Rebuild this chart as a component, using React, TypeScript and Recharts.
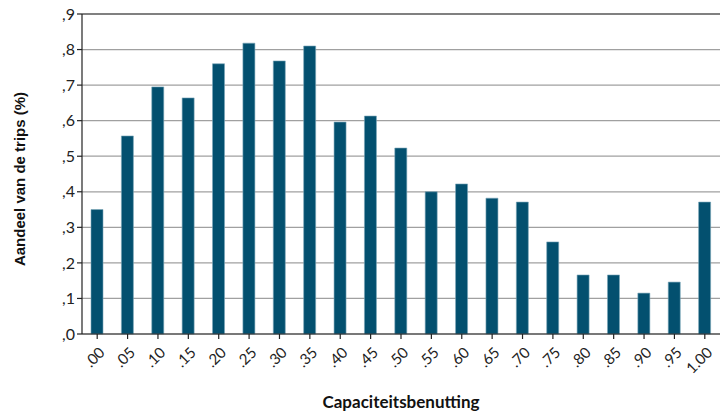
import React from 'react';
import { BarChart, Bar, XAxis, YAxis, CartesianGrid, ReferenceLine } from 'recharts';

const categories = ['.00', '.05', '.10', '.15', '.20', '.25', '.30', '.35', '.40', '.45', '.50', '.55', '.60', '.65', '.70', '.75', '.80', '.85', '.90', '.95', '1.00'];
const shares = [0.35, 0.557, 0.695, 0.664, 0.76, 0.818, 0.768, 0.81, 0.596, 0.613, 0.523, 0.40, 0.422, 0.382, 0.371, 0.259, 0.166, 0.166, 0.115, 0.146, 0.371];
const yTicks = [0, 0.1, 0.2, 0.3, 0.4, 0.5, 0.6, 0.7, 0.8, 0.9];

const data = categories.map((c, i) => ({ cat: c, share: shares[i] }));

const FONT = 'Lato, "DejaVu Sans", sans-serif';
const LABEL_FONT = '"Liberation Sans", Arial, sans-serif';

const XTick = (props: any) => {
    const { x, y, payload } = props;
    return (
        <g transform={`translate(${x + 5},${y + 9})`}>
            <text textAnchor="end" transform="rotate(-45)" fontSize={15} fill="#222" fontFamily={FONT} dy={5}>
                {payload.value}
            </text>
        </g>
    );
};

// y-as titel, gedraaid, iets rechts van de rand
const YTitle = () => (
    <text x={19} y={179} transform="rotate(-90 19 179)" textAnchor="middle" dominantBaseline="central" fontSize={15} fontWeight={700} fill="#111" fontFamily={LABEL_FONT}>
        Aandeel van de trips (%)
    </text>
);

export default function App() {
    return (
        <div style={{ position: 'absolute', left: 0, top: 0, width: 720, height: 417, background: '#fff' }}>
            <BarChart width={720} height={417} data={data} margin={{ top: 14, right: 0, bottom: 0, left: 30 }} barCategoryGap={0}>
                <CartesianGrid vertical={false} stroke="#a0a0a0" strokeWidth={1.2} />
                <XAxis
                    dataKey="cat"
                    interval={0}
                    height={83}
                    tick={<XTick />}
                    axisLine={{ stroke: '#222', strokeWidth: 1.2 }}
                    tickLine={{ stroke: '#222', strokeWidth: 1.2 }}
                    tickSize={5}
                    label={{ value: 'Capaciteitsbenutting', position: 'insideBottom', offset: 9, style: { fontSize: 17, fontWeight: 700, fill: '#111', fontFamily: FONT } }}
                />
                <YAxis
                    domain={[0, 0.9]}
                    ticks={yTicks}
                    width={52}
                    interval={0}
                    tickFormatter={(v: number) => ',' + Math.round(v * 10)}
                    tick={{ fontSize: 16, fill: '#222', fontFamily: FONT }}
                    axisLine={{ stroke: '#222', strokeWidth: 1.2 }}
                    tickLine={{ stroke: '#222', strokeWidth: 1.2 }}
                    tickSize={5}
                />
                <ReferenceLine y={0.9} stroke="#333" strokeWidth={1.2} />
                <Bar dataKey="share" fill="#03506f" stroke="#7aa6b8" strokeWidth={0.6} barSize={12} isAnimationActive={false} />
                <YTitle />
            </BarChart>
        </div>
    );
}
